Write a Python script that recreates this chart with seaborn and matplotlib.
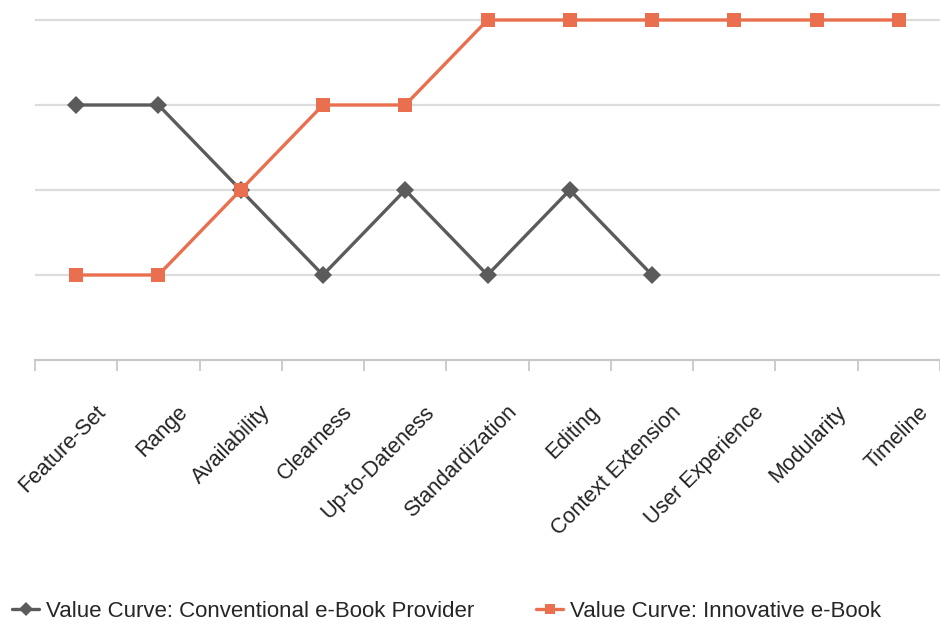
import numpy as np
import pandas as pd
import matplotlib
matplotlib.use("Agg")
import matplotlib.pyplot as plt
import seaborn as sns

categories = ["Feature-Set", "Range", "Availability", "Clearness", "Up-to-Dateness",
              "Standardization", "Editing", "Context Extension", "User Experience",
              "Modularity", "Timeline"]
conventional = [3, 3, 2, 1, 2, 1, 2, 1, np.nan, np.nan, np.nan]
innovative = [1, 1, 2, 3, 3, 4, 4, 4, 4, 4, 4]
series_names = ["Value Curve: Conventional e-Book Provider", "Value Curve: Innovative e-Book"]
y_levels = [1, 2, 3, 4]

df = pd.DataFrame({
    "category": categories * 2,
    "value": conventional + innovative,
    "series": [series_names[0]] * len(categories) + [series_names[1]] * len(categories),
})

sns.set_style("white")
plt.rcParams["font.family"] = ["Liberation Sans", "DejaVu Sans"]

fig = plt.figure(figsize=(9.4, 6.26), dpi=100)
ax = fig.add_axes([35 / 940, 1 - 360 / 626, 1 - 35 / 940, 360 / 626])

gray = "#5b5b5b"
orange = "#e96f4f"
sns.lineplot(data=df, x="category", y="value", hue="series", style="series",
             palette=[gray, orange], markers=["D", "s"], dashes=False,
             sort=False, linewidth=2.4, markersize=10, markeredgewidth=0,
             ax=ax, legend=True)
for line in ax.lines:
    if line.get_marker() == "D":
        line.set_markersize(9.5)

ax.set_xlim(-0.5, (940 - 35) / 83.2 - 0.5)
ax.set_ylim(0, 360 / 85)
ax.set_yticks(y_levels)
ax.yaxis.grid(True, color="#dcdcdc", linewidth=1.6)
ax.set_yticklabels([])
ax.tick_params(axis="y", length=0)
ax.set_xlabel("")
ax.set_ylabel("")
for s in ["top", "right", "left"]:
    ax.spines[s].set_visible(False)
ax.spines["bottom"].set_color("#c8c8c8")
ax.spines["bottom"].set_linewidth(1.6)

ax.set_xticks(range(len(categories)))
ax.set_xticklabels(categories, rotation=45, ha="right", rotation_mode="anchor",
                   fontsize=15.5, color="#222222")
ax.set_xticks(np.arange(-0.5, len(categories), 1), minor=True)
ax.tick_params(axis="x", which="major", bottom=False, length=0, pad=30)
ax.tick_params(axis="x", which="minor", bottom=True, length=8, width=1.3,
               color="#c8c8c8", direction="out")
for lbl in ax.get_xticklabels():
    lbl.set_transform(lbl.get_transform() + matplotlib.transforms.ScaledTranslation(0.19, 0, fig.dpi_scale_trans))

handles, labels = ax.get_legend_handles_labels()
ax.get_legend().remove()
fig.legend(handles, labels, loc="lower left", bbox_to_anchor=(-0.008, -0.025), ncol=2,
           frameon=False, handlelength=1.2, handletextpad=0.3, columnspacing=2.8,
           fontsize=16, markerscale=0.7)

fig.savefig("out.png", dpi=100)
